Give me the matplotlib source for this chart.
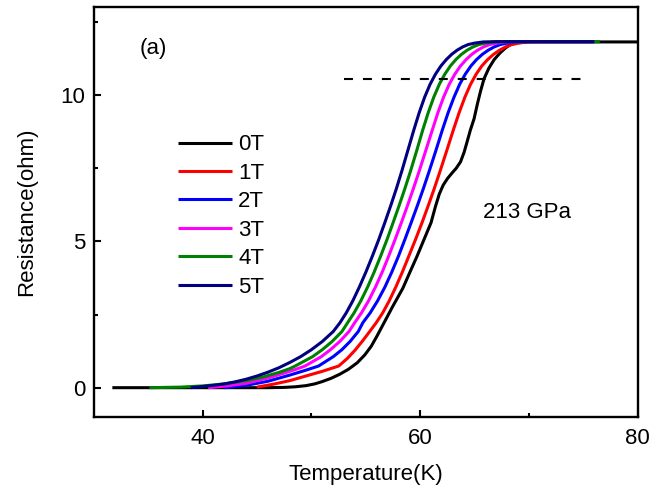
import matplotlib
matplotlib.use("Agg")
import matplotlib.pyplot as plt

plt.rcParams['font.family'] = ['Liberation Sans', 'DejaVu Sans']

# field labels and colours
fields = ["0T", "1T", "2T", "3T", "4T", "5T"]
colors = ["#000000", "#ff0000", "#0000ff", "#ff00ff", "#008000", "#000080"]

# R(T) curves
T_0T = [31.7, 46.0, 47.5, 48.5, 49.5, 50.3, 51.0, 51.8, 52.6, 53.4, 54.2, 54.9, 55.5, 56.0, 56.5,
        57.0, 57.5, 57.95, 58.4, 59.05, 59.71, 60.35, 60.99, 61.4, 61.75, 62.1, 62.5, 62.9, 63.3,
        63.7, 64.03, 64.3, 64.6, 64.95, 65.25, 65.55, 65.86, 66.3, 66.8, 67.35, 67.85, 68.3, 68.9,
        69.5, 80.0]
R_0T = [0.0, 0.0, 0.01, 0.03, 0.07, 0.13, 0.21, 0.32, 0.46, 0.63, 0.85, 1.12, 1.42, 1.75, 2.1,
        2.45, 2.8, 3.1, 3.4, 3.95, 4.5, 5.07, 5.64, 6.2, 6.62, 6.92, 7.15, 7.33, 7.5,
        7.72, 8.05, 8.4, 8.8, 9.2, 9.7, 10.15, 10.56, 10.92, 11.22, 11.45, 11.62, 11.73, 11.79,
        11.82, 11.82]

# shared resistance levels above the foot (1T..5T)
R_up = [2.22, 2.56, 2.97, 3.44, 3.95, 4.5, 5.08, 5.65, 6.24, 6.8, 7.4, 8.1, 8.8, 9.4, 9.93,
        10.37, 10.72, 11.0, 11.22, 11.4, 11.54, 11.65, 11.73, 11.78, 11.82, 11.83, 11.83]

T_1T = [45.0, 46.5, 48.0, 49.5, 51.0, 52.5, 53.3, 54.0, 54.7, 55.35,
        55.95, 56.55, 57.15, 57.75, 58.35, 58.95, 59.58, 60.17, 60.75, 61.28, 61.82, 62.43, 63.03,
        63.57, 64.1, 64.62, 65.14, 65.66, 66.2, 66.75, 67.3, 67.85, 68.4, 69.05, 69.9, 71.5, 76.0]
R_1T = [0.02, 0.12, 0.24, 0.4, 0.56, 0.74, 1.0, 1.28, 1.6, 1.92] + R_up

T_2T = [42.0, 44.0, 46.0, 48.0, 49.5, 50.65, 52.0, 52.8, 53.55, 54.3,
        54.72, 55.4, 56.08, 56.75, 57.38, 58.0, 58.6, 59.17, 59.75, 60.28, 60.82, 61.43, 62.02,
        62.56, 63.1, 63.62, 64.14, 64.66, 65.18, 65.72, 66.26, 66.8, 67.35, 68.0, 68.85, 70.5, 76.0]
R_2T = [0.0, 0.08, 0.22, 0.43, 0.6, 0.74, 1.06, 1.3, 1.58, 1.92] + R_up

T_3T = [40.5, 42.0, 44.0, 46.0, 47.5, 48.5, 49.4, 50.9, 51.75, 52.6, 53.45,
        53.97, 54.6, 55.25, 55.88, 56.5, 57.1, 57.7, 58.27, 58.84, 59.36, 59.9, 60.5, 61.1,
        61.62, 62.14, 62.66, 63.18, 63.7, 64.22, 64.75, 65.28, 65.82, 66.36, 67.0, 67.85, 69.5, 76.0]
R_3T = [0.0, 0.05, 0.15, 0.33, 0.5, 0.62, 0.74, 1.06, 1.3, 1.58, 1.92] + R_up

T_4T = [35.1, 38.0, 40.0, 42.0, 44.0, 45.5, 47.0, 48.0, 48.5, 50.1, 51.0, 51.9, 52.8,
        53.32, 53.92, 54.54, 55.16, 55.76, 56.36, 56.96, 57.51, 58.07, 58.58, 59.1, 59.67, 60.22,
        60.73, 61.24, 61.75, 62.26, 62.77, 63.28, 63.8, 64.32, 64.85, 65.38, 66.0, 66.8, 68.0, 76.5]
R_4T = [0.0, 0.02, 0.06, 0.13, 0.24, 0.36, 0.52, 0.65, 0.74, 1.06, 1.3, 1.58, 1.92] + R_up

T_5T = [38.9, 40.0, 41.0, 42.0, 43.0, 44.0, 45.0, 46.0, 47.0, 48.0, 49.0, 50.0, 51.0, 52.0,
        52.62, 53.2, 53.8, 54.4, 55.0, 55.6, 56.2, 56.75, 57.3, 57.8, 58.3, 58.85, 59.4,
        59.9, 60.4, 60.9, 61.4, 61.9, 62.4, 62.9, 63.4, 63.9, 64.4, 65.0, 65.8, 67.0, 76.0]
R_5T = [0.0, 0.04, 0.08, 0.13, 0.2, 0.29, 0.4, 0.53, 0.68, 0.86, 1.06, 1.3, 1.58, 1.92] + R_up

curves = [(T_0T, R_0T), (T_1T, R_1T), (T_2T, R_2T), (T_3T, R_3T), (T_4T, R_4T), (T_5T, R_5T)]

# dashed criterion line
dash_T = [53.0, 75.0]
dash_R = [10.55, 10.55]

fig = plt.figure(figsize=(6.61, 4.94), dpi=100)
ax = fig.add_axes([0.142, 0.156, 0.823, 0.829])

for (t, r), lab, c in zip(curves, fields, colors):
    ax.plot(t, r, color=c, lw=2.2, label=lab, solid_capstyle='butt', solid_joinstyle='round')

ax.plot(dash_T, dash_R, color='black', lw=1.5, dashes=(4.3, 4.8))

ax.set_xlim(30, 80)
ax.set_ylim(-1, 13)
ax.set_xticks([40, 60, 80])
ax.set_xticks([50, 70], minor=True)
ax.set_yticks([0, 5, 10])
ax.set_yticks([2.5, 7.5, 12.5], minor=True)
ax.tick_params(which='both', direction='in', width=1.5, labelsize=16)
ax.tick_params(which='major', length=5)
ax.tick_params(which='minor', length=3)
ax.tick_params(axis='x', pad=8)
ax.tick_params(axis='y', pad=6)
for s in ax.spines.values():
    s.set_linewidth(1.7)

ax.set_xlabel("Temperature(K)", fontsize=16, labelpad=11)
ax.set_ylabel("Resistance(ohm)", fontsize=16, labelpad=17)

ax.text(35.5, 11.6, "(a)", fontsize=16, ha='center', va='center')
ax.text(69.8, 6.0, "213 GPa", fontsize=16, ha='center', va='center')

ax.legend(loc='upper left', bbox_to_anchor=(0.155, 0.69), frameon=False, fontsize=16,
          handlelength=2.4, handletextpad=0.3, labelspacing=0.335, borderpad=0, borderaxespad=0)

fig.savefig("out.png", dpi=100)
